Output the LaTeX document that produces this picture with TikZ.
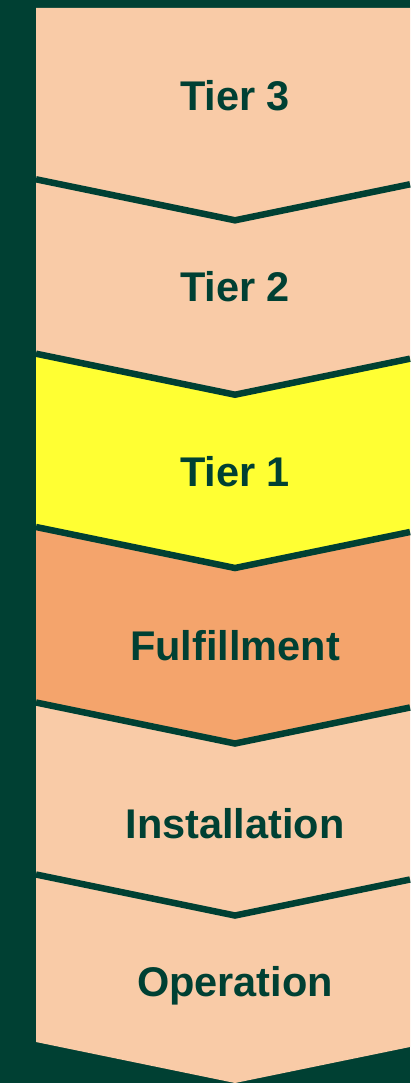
\documentclass[tikz,border=0pt]{standalone}
\usepackage{fontspec}
\setmainfont{Liberation Sans}
\definecolor{dkgreen}{HTML}{004033}
\definecolor{peach}{HTML}{F9CBA7}
\definecolor{tieryellow}{HTML}{FFFF33}
\definecolor{fulorange}{HTML}{F4A46C}
\tikzset{
  lbl/.style={anchor=base, text=dkgreen, font=\fontsize{41.5}{48}\selectfont\bfseries, inner sep=0pt},
  sep/.style={draw=dkgreen, line width=6.5pt, line join=miter},
}
\begin{document}
\begin{tikzpicture}[x=1pt,y=-1pt]
\fill[dkgreen] (0,0) rectangle (410,1083);
\useasboundingbox (0,0) rectangle (410,1083);
% boundaries: left y, mid y = +41, right y = +5
\def\bA{179.3}\def\bB{353.7}\def\bC{527}\def\bD{702.5}\def\bE{874.5}\def\bF{1042}
\fill[peach] (36,8) -- (410,8) -- (410,\bA+5) -- (235,\bA+41) -- (36,\bA) -- cycle;
\fill[peach] (36,\bA) -- (235,\bA+41) -- (410,\bA+5) -- (410,\bB+5) -- (235,\bB+41) -- (36,\bB) -- cycle;
\fill[tieryellow] (36,\bB) -- (235,\bB+41) -- (410,\bB+5) -- (410,\bC+5) -- (235,\bC+41) -- (36,\bC) -- cycle;
\fill[fulorange] (36,\bC) -- (235,\bC+41) -- (410,\bC+5) -- (410,\bD+5) -- (235,\bD+41) -- (36,\bD) -- cycle;
\fill[peach] (36,\bD) -- (235,\bD+41) -- (410,\bD+5) -- (410,\bE+5) -- (235,\bE+41) -- (36,\bE) -- cycle;
\fill[peach] (36,\bE) -- (235,\bE+41) -- (410,\bE+5) -- (410,\bF+5) -- (235,\bF+41) -- (36,\bF) -- cycle;
\foreach \b in {\bA,\bB,\bC,\bD,\bE}{
  \draw[sep] (36,\b) -- (235,\b+41) -- (410,\b+5);
}
\node[lbl] (t3) at (235,110.7) {Tier 3};
\node[lbl] (t2) at (235,301) {Tier 2};
\node[lbl] (t1) at (235,486.5) {Tier 1};
\node[lbl] (ful) at (235,660) {Fulfillment};
\node[lbl] (ins) at (235,838) {Installation};
\node[lbl] (op) at (235,996.5) {Operation};
\end{tikzpicture}
\end{document}
